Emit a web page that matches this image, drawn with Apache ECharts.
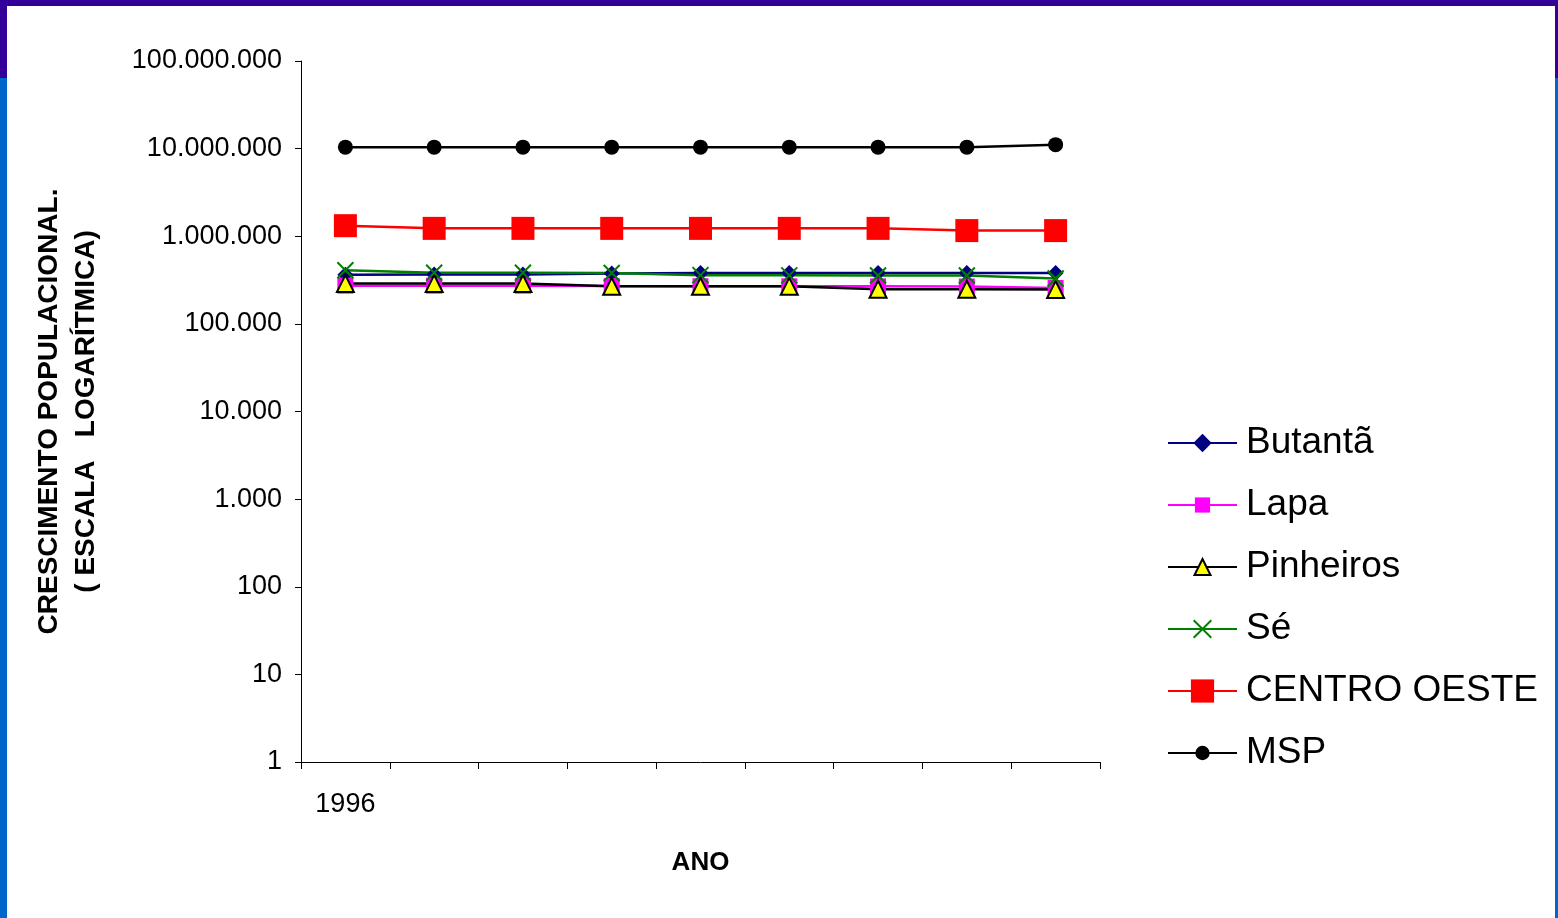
<!DOCTYPE html>
<html>
<head>
<meta charset="utf-8">
<script src="https://cdn.jsdelivr.net/npm/echarts@6/dist/echarts.min.js"></script>
<style>
  html, body { margin: 0; padding: 0; background: #ffffff; }
  #wrap { position: relative; width: 1558px; height: 918px; overflow: hidden; background: #ffffff; }
  #chart { position: absolute; left: 0; top: 0; width: 1558px; height: 918px; }
  .bar { position: absolute; }
</style>
</head>
<body>
<div id="wrap">
  <div class="bar" style="left:0;top:0;width:1558px;height:6px;background:#330099;"></div>
  <div class="bar" style="left:0;top:0;width:7px;height:78px;background:#330099;"></div>
  <div class="bar" style="left:0;top:78px;width:7px;height:840px;background:#0066CC;"></div>
  <div class="bar" style="left:1555px;top:0;width:3px;height:78px;background:#330099;"></div>
  <div class="bar" style="left:1555px;top:78px;width:3px;height:840px;background:#0066CC;"></div>
  <div id="chart"></div>
</div>
<script>
// ---- data ----
var categories = ['1996', '', '', '', '', '', '', '', ''];
var butanta = [363000, 365000, 367000, 376000, 380000, 380000, 381000, 381000, 381000];
var lapa = [273000, 273000, 273000, 270000, 269000, 268000, 268000, 267000, 257000];
var pinheiros = [288000, 288000, 288000, 268000, 268000, 268000, 248000, 248000, 247000];
var se = [410000, 383000, 383000, 380000, 360000, 358000, 357000, 356000, 330000];
var centroOeste = [1320000, 1230000, 1230000, 1230000, 1230000, 1230000, 1230000, 1160000, 1160000];
var msp = [10400000, 10400000, 10400000, 10400000, 10400000, 10400000, 10400000, 10400000, 11100000];
var seriesNames = ['Butantã', 'Lapa', 'Pinheiros', 'Sé', 'CENTRO OESTE', 'MSP'];
var yAxisTitle = 'CRESCIMENTO POPULACIONAL.\n( ESCALA   LOGARÍTMICA)';
var xAxisTitle = 'ANO';

var FONT = "'Liberation Sans', Arial, sans-serif";
function fmt(v) {
  return String(Math.round(v)).replace(/\B(?=(\d{3})+(?!\d))/g, '.');
}

var styles = [
  { color: '#000080', symbol: 'diamond', size: 16, legendH: 23, border: null },
  { color: '#FF00FF', symbol: 'rect', size: 16, legendH: 19, border: null },
  { color: '#000000', symbol: 'triangle', size: 17, legendH: 20, fill: '#FFFF00', border: '#000000' },
  { color: '#008000', symbol: 'path://M0,0L10,10M10,0L0,10', size: 16, legendH: 22, border: '#008000' },
  { color: '#FF0000', symbol: 'rect', size: 23, legendH: 29, border: null },
  { color: '#000000', symbol: 'circle', size: 15, legendH: 18, border: null }
];
var values = [butanta, lapa, pinheiros, se, centroOeste, msp];
var legendCenters = [443, 505, 567, 629, 691, 753];

var series = seriesNames.map(function (name, i) {
  var s = styles[i];
  var itemStyle = { color: s.fill || s.color };
  if (s.border) { itemStyle.borderColor = s.border; itemStyle.borderWidth = 2; }
  return {
    name: name,
    type: 'line',
    data: values[i],
    symbol: s.symbol,
    symbolSize: s.size,
    showAllSymbol: true,
    lineStyle: { color: s.color, width: 2.5 },
    itemStyle: itemStyle,
    emphasis: { disabled: true }
  };
});

var legends = seriesNames.map(function (name, i) {
  return {
    data: [name],
    left: 1167,
    top: legendCenters[i] - 18.5,
    orient: 'vertical',
    padding: 0,
    itemWidth: 69,
    itemHeight: styles[i].legendH,
    selectedMode: false,
    textStyle: { fontFamily: FONT, fontSize: 37, color: '#000', padding: [0, 0, 0, 4] }
  };
});

var chart = echarts.init(document.getElementById('chart'), null, { renderer: 'canvas' });
chart.setOption({
  animation: false,
  backgroundColor: 'transparent',
  grid: { left: 301, right: 458, top: 61, bottom: 156, containLabel: false },
  legend: legends,
  xAxis: {
    type: 'category',
    data: categories,
    boundaryGap: true,
    name: xAxisTitle,
    nameLocation: 'middle',
    nameGap: 88,
    nameTextStyle: { fontFamily: FONT, fontSize: 26, fontWeight: 'bold', color: '#000' },
    axisLine: { lineStyle: { color: '#000', width: 1 } },
    axisTick: { show: true, interval: 0, length: 7, inside: false, alignWithLabel: false, lineStyle: { color: '#000' } },
    axisLabel: { interval: 0, margin: 29, fontFamily: FONT, fontSize: 27, color: '#000' },
    splitLine: { show: false }
  },
  yAxis: {
    type: 'log',
    logBase: 10,
    min: 1,
    max: 100000000,
    splitNumber: 8,
    name: yAxisTitle,
    nameLocation: 'middle',
    nameRotate: 90,
    nameGap: 196,
    nameTextStyle: { fontFamily: FONT, fontSize: 28, fontWeight: 'bold', color: '#000', lineHeight: 37, align: 'center' },
    axisLine: { show: true, lineStyle: { color: '#000', width: 1 } },
    axisTick: { show: true, length: 6, lineStyle: { color: '#000' } },
    axisLabel: { margin: 19, fontFamily: FONT, fontSize: 27, color: '#000', formatter: fmt },
    splitLine: { show: false }
  },
  series: series
});
</script>
</body>
</html>
